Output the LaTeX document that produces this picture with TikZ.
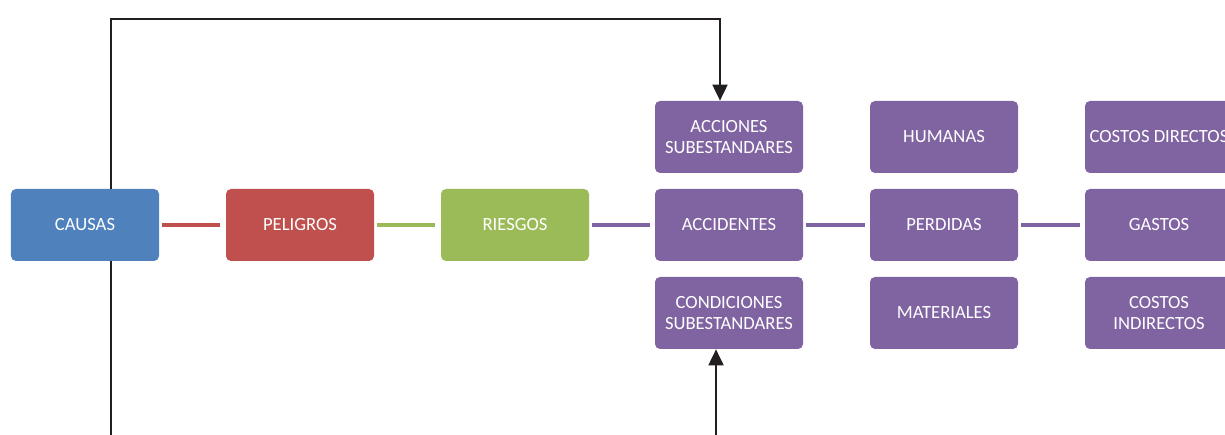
\documentclass[tikz,border=0pt]{standalone}
\usepackage{fontspec}
\setmainfont{Carlito}
\usetikzlibrary{arrows.meta}
\definecolor{cblue}{HTML}{4F81BD}
\definecolor{cred}{HTML}{C0504D}
\definecolor{cgreen}{HTML}{9BBB59}
\definecolor{cpurple}{HTML}{8064A2}
\definecolor{cblack}{HTML}{231F20}
\tikzset{
  box/.style={rectangle, rounded corners=0.1cm, minimum width=2.96cm, minimum height=1.44cm,
    text=white, align=center, inner sep=0pt, font=\fontsize{10.6}{12}\selectfont},
  link/.style={line width=2.8pt},
  conn/.style={line width=1.1pt, draw=cblack},
  tip/.style={-{Triangle[width=0.3cm,length=0.32cm]}}
}
\begin{document}
\begin{tikzpicture}
\useasboundingbox (0,0) rectangle (24.5,8.7);
\clip (0,0) rectangle (24.5,8.7);
\node[box, fill=cblue] (causas) at (1.7,4.2) {CAUSAS};
\node[box, fill=cred] (peligros) at (6.0,4.2) {PELIGROS};
\node[box, fill=cgreen] (riesgos) at (10.3,4.2) {RIESGOS};
\node[box, fill=cpurple] (accidentes) at (14.58,4.2) {ACCIDENTES};
\node[box, fill=cpurple] (acciones) at (14.58,5.96) {ACCIONES\\SUBESTANDARES};
\node[box, fill=cpurple] (condiciones) at (14.58,2.44) {CONDICIONES\\SUBESTANDARES};
\node[box, fill=cpurple] (humanas) at (18.88,5.96) {HUMANAS};
\node[box, fill=cpurple] (perdidas) at (18.88,4.2) {PERDIDAS};
\node[box, fill=cpurple] (materiales) at (18.88,2.44) {MATERIALES};
\node[box, fill=cpurple] (directos) at (23.18,5.96) {COSTOS DIRECTOS};
\node[box, fill=cpurple] (gastos) at (23.18,4.2) {GASTOS};
\node[box, fill=cpurple] (indirectos) at (23.18,2.44) {COSTOS\\INDIRECTOS};

\draw[link, cred, shorten <=0.06cm, shorten >=0.12cm] (causas) -- (peligros);
\draw[link, cgreen, shorten <=0.06cm, shorten >=0.12cm] (peligros) -- (riesgos);
\draw[link, cpurple, shorten <=0.06cm, shorten >=0.1cm] (riesgos) -- (accidentes);
\draw[link, cpurple, shorten <=0.06cm, shorten >=0.1cm] (accidentes) -- (perdidas);
\draw[link, cpurple, shorten <=0.06cm, shorten >=0.1cm] (perdidas) -- (gastos);

\coordinate (tl) at (2.22,8.32);
\coordinate (tr) at (14.4,8.32);
\coordinate (bl) at (2.22,-0.4);
\coordinate (br) at (14.32,-0.4);
\draw[conn, tip] (causas.north -| tl) -- (tl) -- (tr) -- (acciones.north -| tr);
\draw[conn, tip] (causas.south -| bl) -- (bl) -- (br) -- (condiciones.south -| br);
\end{tikzpicture}
\end{document}
